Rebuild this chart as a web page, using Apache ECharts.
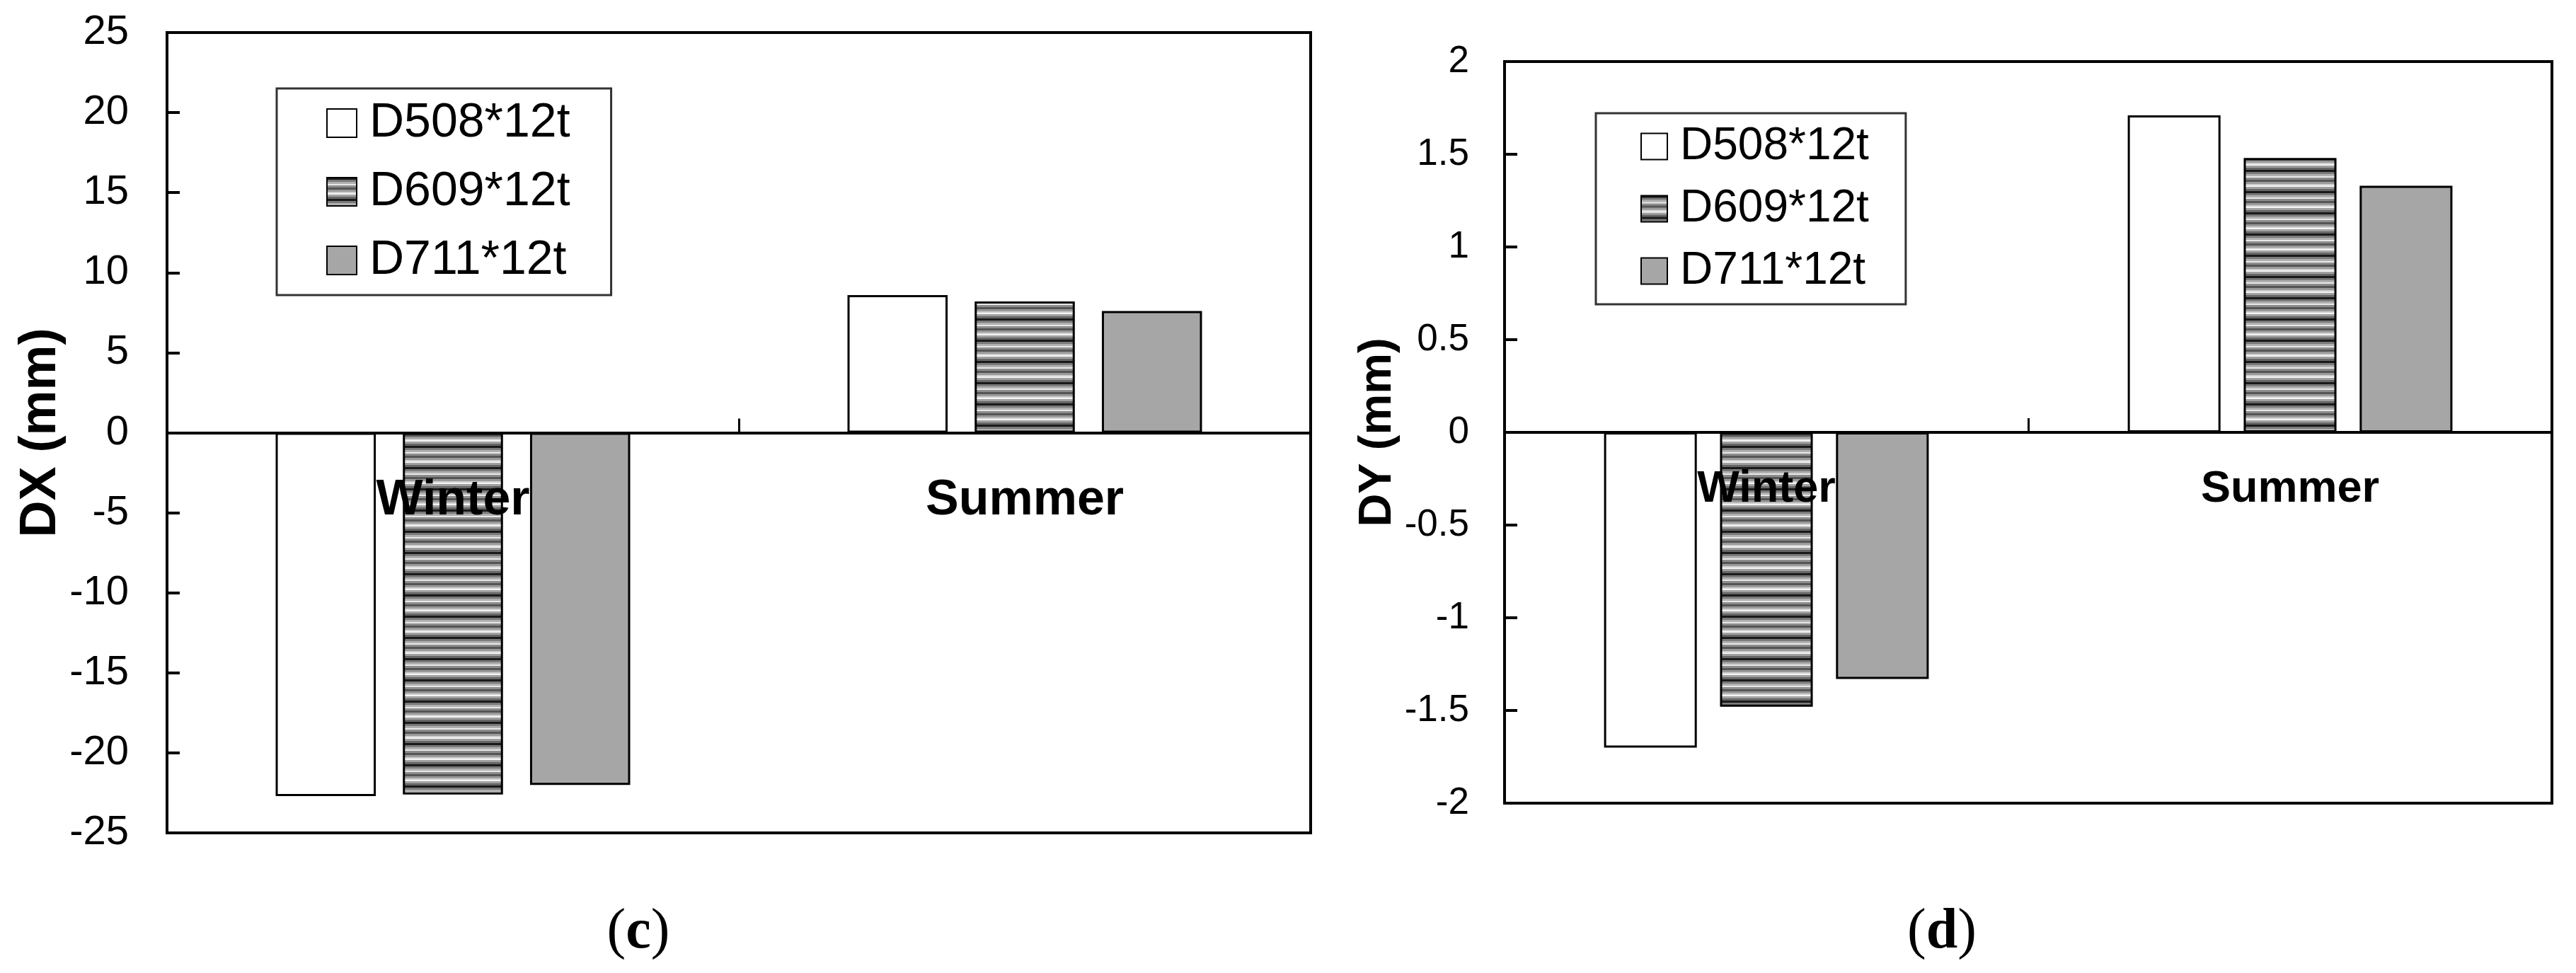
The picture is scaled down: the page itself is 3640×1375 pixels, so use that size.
<!DOCTYPE html>
<html>
<head>
<meta charset="utf-8">
<script src="https://cdn.jsdelivr.net/npm/echarts@6/dist/echarts.min.js"></script>
<style>
html,body{margin:0;padding:0;background:#fff;}
#chart{width:3640px;height:1375px;}
</style>
</head>
<body>
<div id="chart"></div>
<script>
// ---- data ----
var categories = ['Winter', 'Summer'];
var seriesNames = ['D508*12t', 'D609*12t', 'D711*12t'];
var dxD508 = [-22.7, 8.6];
var dxD609 = [-22.6, 8.2];
var dxD711 = [-22.0, 7.6];
var dyD508 = [-1.70, 1.71];
var dyD609 = [-1.48, 1.48];
var dyD711 = [-1.33, 1.33];
var dxTicks = {min: -25, max: 25, interval: 5};
var dyTicks = {min: -2, max: 2, interval: 0.5};

// ---- stripe pattern ----
function makeStripes() {
  var rows = ['#1a1a1a','#1a1a1a','#1a1a1a','#7a7a7a','#7a7a7a','#7a7a7a','#b0b0b0','#b0b0b0','#b0b0b0',
              '#e8e8e8','#e8e8e8','#8c8c8c','#8c8c8c','#8c8c8c','#555555','#555555','#555555',
              '#9a9a9a','#9a9a9a','#9a9a9a','#d0d0d0','#d0d0d0','#f4f4f4','#f4f4f4',
              '#a0a0a0','#a0a0a0','#a0a0a0','#666666','#666666','#666666'];
  var c = document.createElement('canvas');
  c.width = 8; c.height = rows.length;
  var ctx = c.getContext('2d');
  for (var i = 0; i < rows.length; i++) { ctx.fillStyle = rows[i]; ctx.fillRect(0, i, 8, 1); }
  return c;
}
var stripe = {image: makeStripes(), repeat: 'repeat'};
var fills = ['#ffffff', stripe, '#a6a6a6'];

var chart = echarts.init(document.getElementById('chart'));

function yAxisCfg(idx, name, ticks, labelSize, nameSize, nameGap, margin) {
  return {
    type: 'value', gridIndex: idx, min: ticks.min, max: ticks.max, interval: ticks.interval,
    name: name, nameLocation: 'middle', nameGap: nameGap,
    nameTextStyle: {fontFamily: 'Liberation Sans', fontWeight: 'bold', fontSize: nameSize, color: '#000'},
    axisLine: {show: true, lineStyle: {color: '#000', width: 4}},
    axisTick: {show: true, inside: true, length: 18, lineStyle: {color: '#000', width: 4}},
    axisLabel: {fontFamily: 'Liberation Sans', fontSize: labelSize, color: '#000', margin: margin},
    splitLine: {show: false}
  };
}
function xAxisCfg(idx, labelSize, margin) {
  return {
    type: 'category', gridIndex: idx, data: categories, z: 10,
    axisLine: {show: true, onZero: true, lineStyle: {color: '#000', width: 4}},
    axisTick: {show: true, inside: true, length: 20, lineStyle: {color: '#000', width: 3}},
    axisLabel: {fontFamily: 'Liberation Sans', fontWeight: 'bold', fontSize: labelSize, color: '#000', margin: margin},
    splitLine: {show: false}
  };
}
function legendCfg(idx, left, top, iw, ih, fs, gap, pad) {
  return {
    orient: 'vertical', left: left, top: top, data: seriesNames,
    icon: 'rect', itemWidth: iw, itemHeight: ih, itemGap: gap,
    padding: pad, borderColor: '#333', borderWidth: 3, backgroundColor: '#fff',
    selectedMode: false,
    textStyle: {fontFamily: 'Liberation Sans', fontSize: fs, lineHeight: fs, color: '#000', padding: [0, 0, 0, 13]}
  };
}
var dxData = [dxD508, dxD609, dxD711];
var dyData = [dyD508, dyD609, dyD711];
var series = [];
for (var i = 0; i < 3; i++) {
  series.push({
    name: seriesNames[i], type: 'bar', xAxisIndex: 0, yAxisIndex: 0, data: dxData[i],
    barGap: '27%', barCategoryGap: '38%',
    itemStyle: {color: fills[i], borderColor: '#000', borderWidth: 3}
  });
}
for (var j = 0; j < 3; j++) {
  series.push({
    name: seriesNames[j], type: 'bar', xAxisIndex: 1, yAxisIndex: 1, data: dyData[j],
    barGap: '25%', barCategoryGap: '38%',
    itemStyle: {color: fills[j], borderColor: '#000', borderWidth: 3}
  });
}

chart.setOption({
  backgroundColor: '#fff',
  animation: false,
  grid: [
    {left: 236, right: 1788, top: 46, bottom: 198, show: true, borderColor: '#000', borderWidth: 4, backgroundColor: 'transparent'},
    {left: 2126, right: 34, top: 87, bottom: 240, show: true, borderColor: '#000', borderWidth: 4, backgroundColor: 'transparent'}
  ],
  xAxis: [xAxisCfg(0, 70, -504), xAxisCfg(1, 63, -475)],
  yAxis: [
    yAxisCfg(0, 'DX (mm)', dxTicks, 58, 72, 140, 54),
    yAxisCfg(1, 'DY (mm)', dyTicks, 53, 65, 146, 50)
  ],
  legend: [
    legendCfg(0, 391, 125, 42, 40, 68, 29, [15, 58, 15, 70]),
    legendCfg(1, 2255, 160, 37, 37, 64, 24, [15, 52, 15, 63])
  ],
  graphic: [
    {type: 'text', x: 902, y: 1318, style: {text: '{n|(}{b|c}{n|)}', textAlign: 'center', textVerticalAlign: 'middle',
      rich: {n: {fontFamily: 'Liberation Serif', fontSize: 80, fill: '#000'}, b: {fontFamily: 'Liberation Serif', fontWeight: 'bold', fontSize: 80, fill: '#000'}}}},
    {type: 'text', x: 2744, y: 1318, style: {text: '{n|(}{b|d}{n|)}', textAlign: 'center', textVerticalAlign: 'middle',
      rich: {n: {fontFamily: 'Liberation Serif', fontSize: 80, fill: '#000'}, b: {fontFamily: 'Liberation Serif', fontWeight: 'bold', fontSize: 80, fill: '#000'}}}}
  ],
  series: series
});
</script>
</body>
</html>
